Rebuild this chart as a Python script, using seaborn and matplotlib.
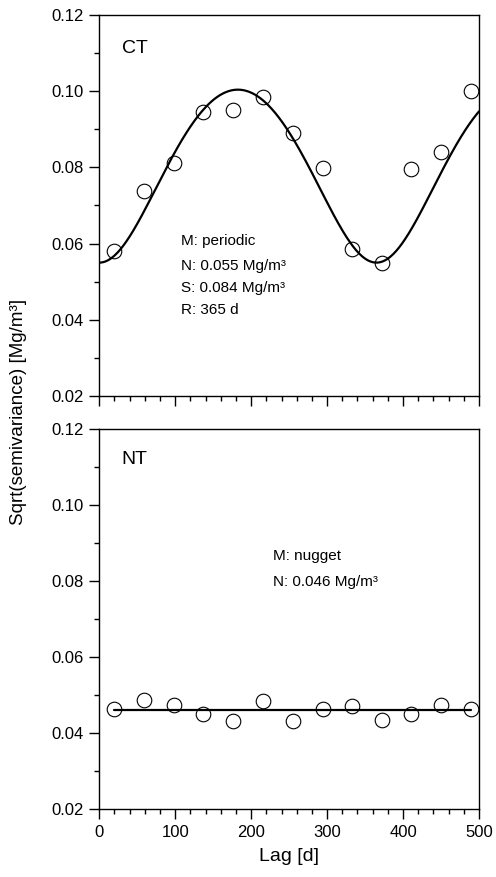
import numpy as np
import pandas as pd
import matplotlib
matplotlib.use("Agg")
import matplotlib.pyplot as plt
import seaborn as sns
from matplotlib.ticker import MultipleLocator

# ---- data ----
lag = [19, 59, 98, 137, 176, 215, 255, 294, 333, 372, 411, 450, 490]
ct_values = [0.0581, 0.0739, 0.0812, 0.0945, 0.0951, 0.0985, 0.0889,
             0.0799, 0.0586, 0.0550, 0.0795, 0.0840, 0.1001]
nt_values = [0.0464, 0.0486, 0.0475, 0.0451, 0.0431, 0.0484, 0.0432,
             0.0462, 0.0470, 0.0435, 0.0451, 0.0475, 0.0462]

# model parameters printed on the chart
ct_nugget = 0.055
ct_sill = 0.084
ct_range = 365
nt_nugget = 0.046

yticks = [0.02, 0.04, 0.06, 0.08, 0.10, 0.12]
xticks = [0, 100, 200, 300, 400, 500]

sns.set_theme(style="ticks")
plt.rcParams['font.family'] = ['Liberation Sans', 'DejaVu Sans']
plt.rcParams['text.color'] = 'black'
plt.rcParams['axes.labelcolor'] = 'black'
plt.rcParams['xtick.color'] = 'black'
plt.rcParams['ytick.color'] = 'black'

fig = plt.figure(figsize=(4.96, 8.77), dpi=100)
left, right = 0.2002, 0.9657
ax1 = fig.add_axes([left, 0.5485, right - left, 0.9829 - 0.5485])
ax2 = fig.add_axes([left, 0.0775, right - left, 0.5108 - 0.0775])

# periodic model curve from printed parameters
h = np.linspace(0, 500, 400)
model_ct = pd.DataFrame({
    "lag": h,
    "val": np.sqrt(ct_nugget**2 + ct_sill**2 * (1 - np.cos(2 * np.pi * h / ct_range)) / 2),
})
df_ct = pd.DataFrame({"lag": lag, "val": ct_values})
df_nt = pd.DataFrame({"lag": lag, "val": nt_values})
model_nt = pd.DataFrame({"lag": [lag[0], lag[-1]], "val": [nt_nugget, nt_nugget]})

for ax, pts, mdl in ((ax1, df_ct, model_ct), (ax2, df_nt, model_nt)):
    sns.lineplot(data=mdl, x="lag", y="val", ax=ax, color="black", linewidth=1.6,
                 estimator=None, sort=False)
    ax.plot(pts["lag"], pts["val"], linestyle="none", marker="o", markersize=10.5,
            markerfacecolor="none", markeredgecolor="black", markeredgewidth=0.8)
    ax.set_xlim(0, 500)
    ax.set_ylim(0.02, 0.12)
    ax.set_yticks(yticks)
    ax.set_yticklabels([f"{v:.2f}" for v in yticks])
    ax.set_xticks(xticks)
    ax.xaxis.set_minor_locator(MultipleLocator(20))
    ax.yaxis.set_minor_locator(MultipleLocator(0.01))
    ax.tick_params(axis="both", which="major", direction="out", length=7.2,
                   width=1.0, labelsize=12, colors="black", pad=4)
    ax.tick_params(axis="both", which="minor", direction="out", length=3.6, width=1.0,
                   colors="black")
    ax.tick_params(top=False, right=False, which="both")
    for sp in ax.spines.values():
        sp.set_visible(True)
        sp.set_linewidth(1.0)
        sp.set_color("black")
    ax.set_xlabel("")
    ax.set_ylabel("")

ax1.tick_params(axis="x", which="both", labelbottom=False)

ax1.text(0.059, 0.913, "CT", transform=ax1.transAxes, fontsize=14, va="center", ha="left",
         color="black")
ax2.text(0.059, 0.921, "NT", transform=ax2.transAxes, fontsize=14, va="center", ha="left",
         color="black")

ct_lines = [("M: periodic", 0.407), ("N: 0.055 Mg/m³", 0.341),
            ("S: 0.084 Mg/m³", 0.284), ("R: 365 d", 0.226)]
for txt, yy in ct_lines:
    ax1.text(0.214, yy, txt, transform=ax1.transAxes, fontsize=11, va="center", ha="left",
             color="black")

nt_lines = [("M: nugget", 0.666), ("N: 0.046 Mg/m³", 0.597)]
for txt, yy in nt_lines:
    ax2.text(0.457, yy, txt, transform=ax2.transAxes, fontsize=11, va="center", ha="left",
             color="black")

ax2.set_xlabel("Lag [d]", fontsize=14, labelpad=6, color="black")
fig.text(0.037, 0.530, "Sqrt(semivariance) [Mg/m³]", rotation=90, fontsize=13.5,
         va="center", ha="center", color="black")

fig.savefig("out.png", dpi=100)
